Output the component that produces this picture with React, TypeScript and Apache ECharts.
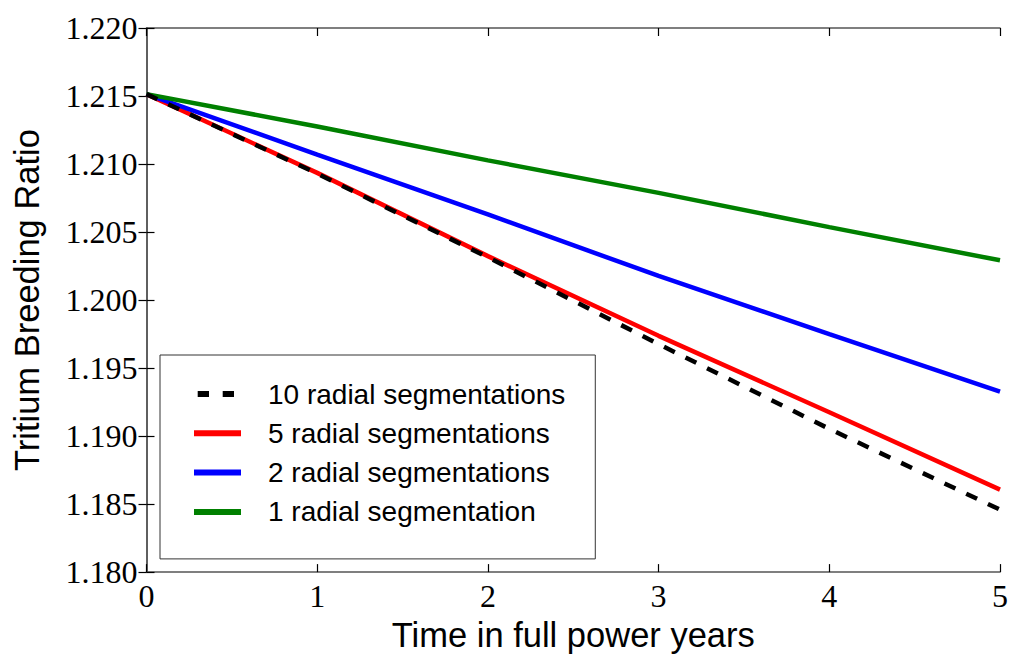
import React, { useEffect, useRef } from "react";
import * as echarts from "echarts";

const years = [0, 1, 2, 3, 4, 5];
const seg10 = [1.21514, 1.2093, 1.20314, 1.19676, 1.19053, 1.18459];
const seg5 = [1.21514, 1.20935, 1.20323, 1.19737, 1.19175, 1.18606];
const seg2 = [1.21514, 1.21069, 1.20629, 1.20177, 1.19749, 1.19326];
const seg1 = [1.21514, 1.21276, 1.21027, 1.20788, 1.20536, 1.20292];

const names = [
  "10 radial segmentations",
  "5 radial segmentations",
  "2 radial segmentations",
  "1 radial segmentation",
];
const colors = ["#000000", "#ff0000", "#0000ff", "#008000"];

const pair = (ys: number[]) => years.map((x, i) => [x, ys[i]]);

export default function App() {
  const ref = useRef<HTMLDivElement>(null);
  useEffect(() => {
    if (!ref.current) return;
    const chart = echarts.init(ref.current, undefined, { renderer: "svg" });
    const serif = "'Liberation Serif', 'DejaVu Serif', serif";
    const sans = "'Liberation Sans', Arial, sans-serif";
    const axisLine = { show: true, lineStyle: { color: "#555", width: 1.5 } };
    const tick = { show: true, inside: true, length: 8, lineStyle: { color: "#000", width: 1.2 } };
    const dashedIcon = "path://M0,0M69,6M3.7,0h11.3v6h-11.3zM28.7,0h11.3v6h-11.3z";
    const solidIcon = "path://M0,0M69,6M0,0h47v6h-47z";
    chart.setOption({
      animation: false,
      backgroundColor: "#fff",
      grid: { left: 146.5, right: 9.3, top: 28, bottom: 83.7, containLabel: false },
      xAxis: [
        {
          type: "value", min: 0, max: 5, interval: 1, position: "bottom",
          axisLine, axisTick: tick, splitLine: { show: false },
          axisLabel: { fontFamily: serif, fontSize: 32, color: "#000", margin: 8 },
          name: "Time in full power years", nameLocation: "middle", nameGap: 44,
          nameTextStyle: { fontFamily: sans, fontSize: 34.5, color: "#000" },
        },
        {
          type: "value", min: 0, max: 5, interval: 1, position: "top",
          axisLine, axisTick: tick, splitLine: { show: false }, axisLabel: { show: false },
        },
      ],
      yAxis: [
        {
          type: "value", min: 1.18, max: 1.22, interval: 0.005, position: "left",
          axisLine, axisTick: tick, splitLine: { show: false },
          axisLabel: {
            fontFamily: serif, fontSize: 32, color: "#000", margin: 9,
            formatter: (v: number) => v.toFixed(3),
          },
          name: "Tritium Breeding Ratio", nameLocation: "middle", nameGap: 102,
          nameTextStyle: { fontFamily: sans, fontSize: 34.5, color: "#000" },
        },
        {
          type: "value", min: 1.18, max: 1.22, interval: 0.005, position: "right",
          axisLine, axisTick: tick, splitLine: { show: false }, axisLabel: { show: false },
        },
      ],
      legend: {
        orient: "vertical", left: 160, top: 355, padding: [25, 30, 33, 34],
        itemGap: 11.3, itemWidth: 69, itemHeight: 6,
        borderColor: "#333", borderWidth: 1, borderRadius: 0,
        textStyle: { fontFamily: sans, fontSize: 28, color: "#000", lineHeight: 27 },
        data: names.map((n, i) => ({ name: n, icon: i === 0 ? dashedIcon : solidIcon })),
      },
      series: [
        { data: seg10, dashed: true },
        { data: seg5 },
        { data: seg2 },
        { data: seg1 },
      ].map((s: any, i) => ({
        type: "line",
        name: names[i],
        data: pair(s.data),
        showSymbol: false,
        symbol: "none",
        color: colors[i],
        z: s.dashed ? 5 : 3,
        lineStyle: {
          color: colors[i], width: 4.5,
          type: s.dashed ? [12, 12] : "solid",
          cap: "butt",
        },
        emphasis: { disabled: true },
      })),
    });
    return () => chart.dispose();
  }, []);
  return <div ref={ref} style={{ width: 1011, height: 657, position: "absolute", left: 0, top: 0 }} />;
}
